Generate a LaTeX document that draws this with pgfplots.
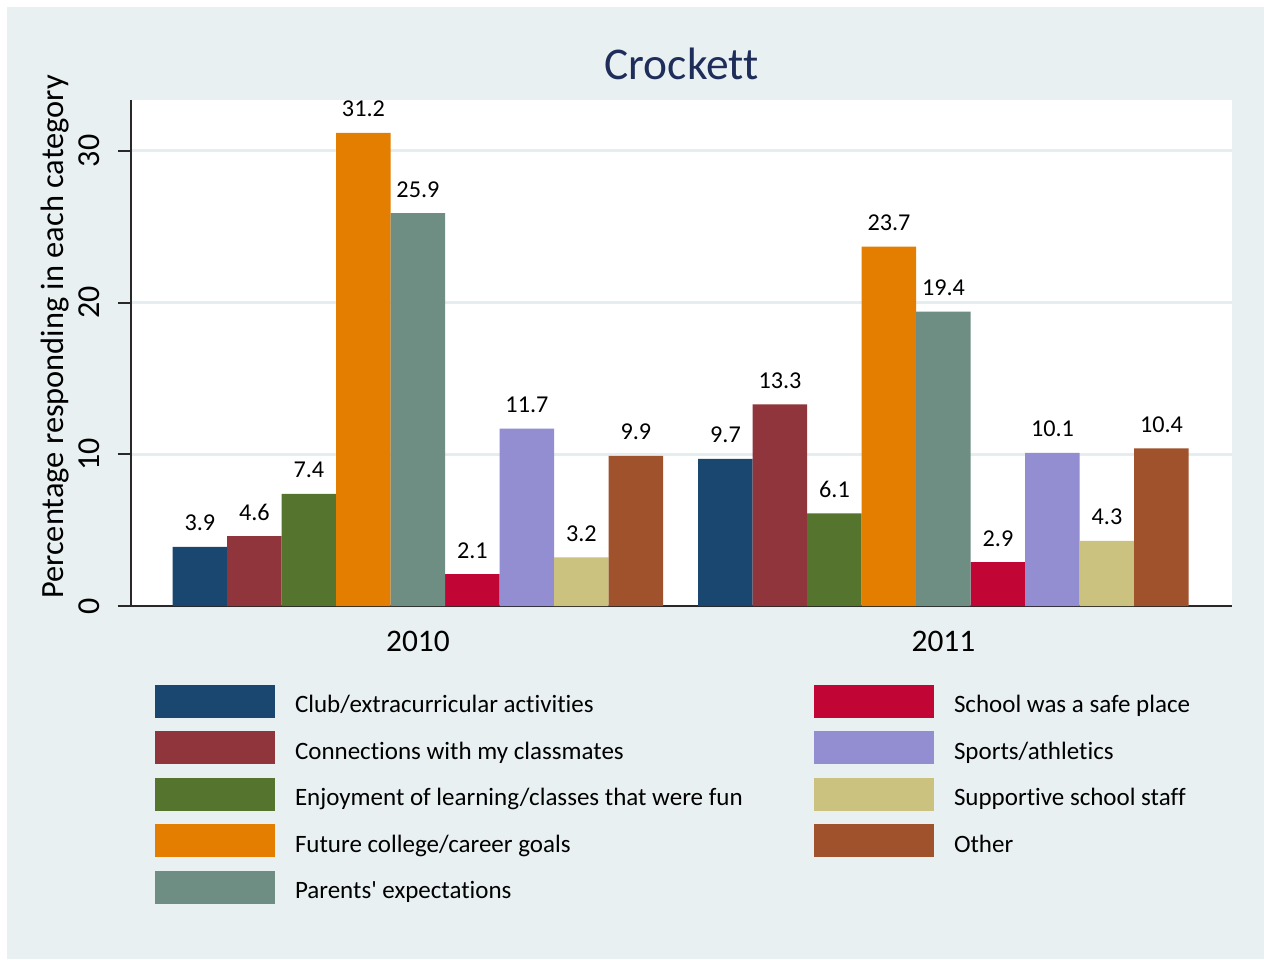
\documentclass[border=0pt]{standalone}
\usepackage{fontspec}
\setmainfont{Carlito}[Ligatures={NoCommon}]
\usepackage{pgfplots}
\usepackage{pgfplotstable}
\pgfplotsset{compat=1.18}
\pgfplotsset{/pgf/number format/assume math mode=true}

\definecolor{bgc}{RGB}{232,240,242}
\definecolor{gridc}{RGB}{228,238,240}
\definecolor{titlec}{RGB}{30,45,90}
\definecolor{axc}{RGB}{40,40,40}
\definecolor{c1}{RGB}{26,71,111}
\definecolor{c2}{RGB}{144,53,59}
\definecolor{c3}{RGB}{85,117,47}
\definecolor{c4}{RGB}{227,126,0}
\definecolor{c5}{RGB}{110,142,132}
\definecolor{c6}{RGB}{193,5,52}
\definecolor{c7}{RGB}{147,141,210}
\definecolor{c8}{RGB}{202,194,126}
\definecolor{c9}{RGB}{160,82,45}

\pgfplotstableread{
x club conn enjoy future parents safe sports staff other
0 3.9 4.6 7.4 31.2 25.9 2.1 11.7 3.2 9.9
1 9.7 13.3 6.1 23.7 19.4 2.9 10.1 4.3 10.4
}\datatable

\begin{document}
\begin{tikzpicture}
\path[use as bounding box] (0pt,0pt) rectangle (632pt,479.5pt);
\fill[white] (0pt,0pt) rectangle (632pt,479.5pt);
\fill[bgc] (3.5pt,0pt) rectangle (632pt,476pt);
\begin{axis}[
  at={(65.5pt,176.5pt)}, anchor=south west,
  scale only axis, width=550.5pt, height=253pt,
  ybar, bar width=0.1037,
  xmin=-0.546, xmax=1.549, ymin=0, ymax=33.36,
  enlargelimits=false,
  axis background/.style={fill=white},
  axis x line*=bottom, axis y line*=left,
  axis line style={line width=1pt, color=axc},
  xtick={0,1}, xticklabels={2010,2011},
  ytick={0,10,20,30},
  tick align=outside,
  major tick length=6.5pt,
  xtick style={draw=none},
  ytick style={line width=1pt, color=axc},
  ymajorgrids,
  major grid style={line width=1.5pt, color=gridc},
  xticklabel style={anchor=base, yshift=-16pt, font=\fontsize{15.7}{18}\selectfont},
  yticklabel style={xshift=-9pt, rotate=90, anchor=base, font=\fontsize{16}{19}\selectfont},
  every axis y label/.style={at={(axis description cs:-0.06903,0.5316)}, rotate=90, anchor=center, font=\fontsize{16.2}{19}\selectfont},
  ylabel={Percentage responding in each category},
  title={Crockett},
  title style={at={(axis description cs:0.5,1)}, anchor=base, yshift=4pt, font=\fontsize{22.7}{26}\selectfont, text=titlec},
  nodes near coords={\pgfmathprintnumber[fixed,fixed zerofill,precision=1,assume math mode=true]{\pgfplotspointmeta}},
  nodes near coords style={anchor=base, yshift=8pt, font=\fontsize{12.1}{14}\selectfont, text=black},
  mybar/.style={draw=none,
    legend image code/.code={\fill[##1] (0pt,-8.25pt) rectangle (60pt,8.25pt);}},
  legend columns=2,
  legend cell align=left,
  legend style={at={(axis description cs:0.0218,-0.1561)}, anchor=north west,
    draw=none, fill=none, inner sep=0pt, outer sep=0pt,
    column sep=10pt, row sep=6.75pt,
    font=\fontsize{12.5}{14}\selectfont,
    nodes={inner sep=0pt, text height=12pt, text depth=0.8pt},
    cells={anchor=west}},
]
\addplot[mybar, fill=c1, bar shift=-0.4148] table[x=x, y=club] {\datatable};
\addlegendentry{\makebox[249.5pt][l]{Club/extracurricular activities}}
\addplot[mybar, fill=c6, bar shift=0.1037] table[x=x, y=safe] {\datatable};
\addlegendentry{School was a safe place}
\addplot[mybar, fill=c2, bar shift=-0.3111] table[x=x, y=conn] {\datatable};
\addlegendentry{\makebox[249.5pt][l]{Connections with my classmates}}
\addplot[mybar, fill=c7, bar shift=0.2074] table[x=x, y=sports] {\datatable};
\addlegendentry{Sports/athletics}
\addplot[mybar, fill=c3, bar shift=-0.2074] table[x=x, y=enjoy] {\datatable};
\addlegendentry{\makebox[249.5pt][l]{Enjoyment of learning/classes that were fun}}
\addplot[mybar, fill=c8, bar shift=0.3111] table[x=x, y=staff] {\datatable};
\addlegendentry{Supportive school staff}
\addplot[mybar, fill=c4, bar shift=-0.1037] table[x=x, y=future] {\datatable};
\addlegendentry{\makebox[249.5pt][l]{Future college/career goals}}
\addplot[mybar, fill=c9, bar shift=0.4148] table[x=x, y=other] {\datatable};
\addlegendentry{Other}
\addplot[mybar, fill=c5, bar shift=0] table[x=x, y=parents] {\datatable};
\addlegendentry{\makebox[249.5pt][l]{Parents\textquotesingle\ expectations}}
\end{axis}
\end{tikzpicture}
\end{document}
